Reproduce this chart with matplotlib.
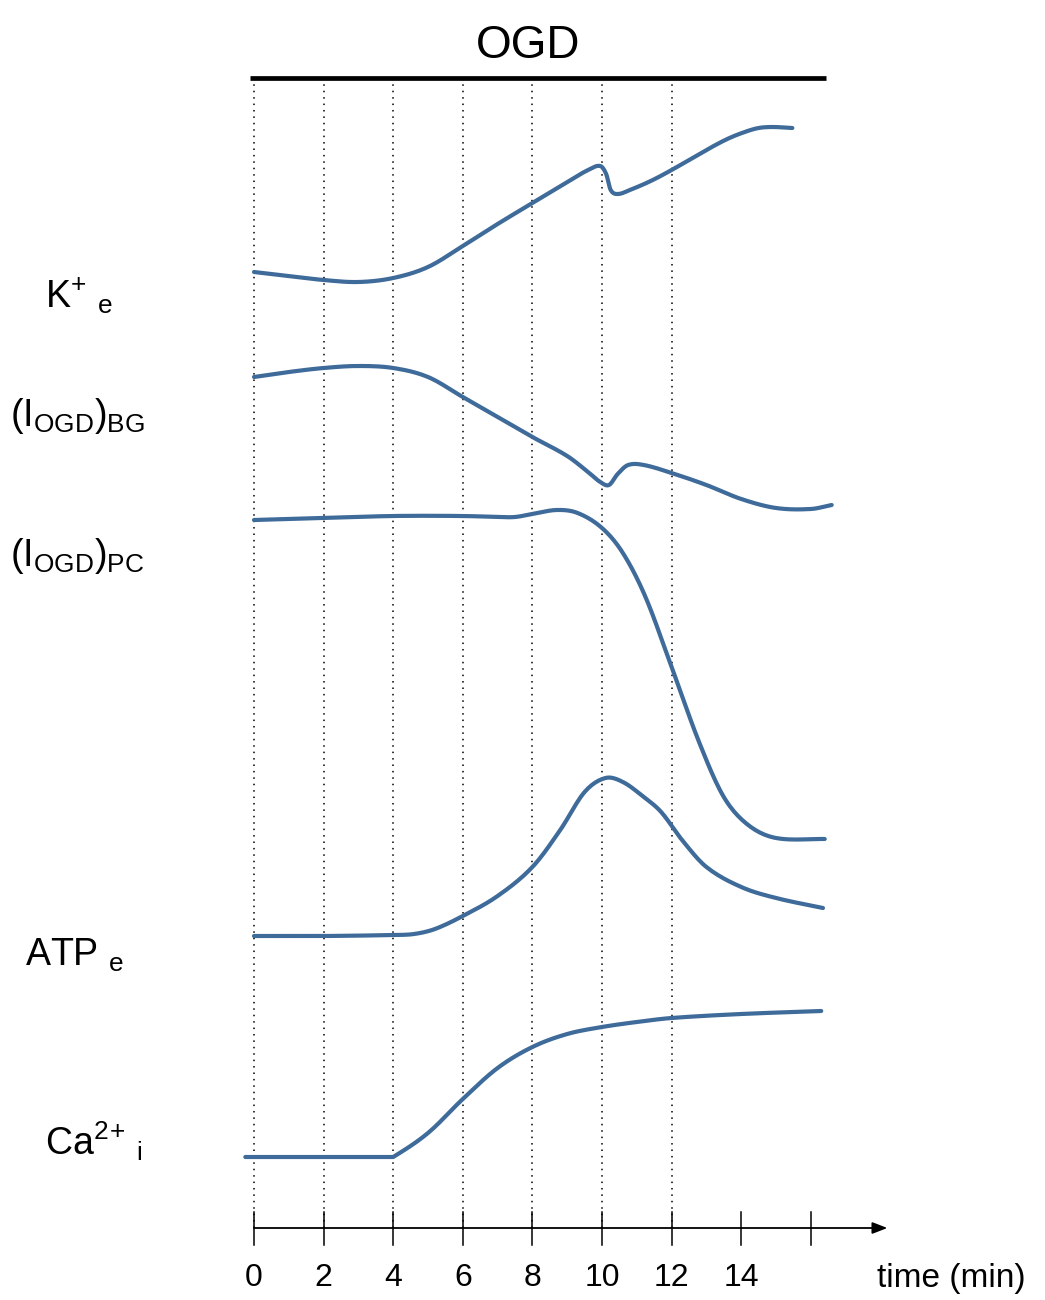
import matplotlib
matplotlib.use("Agg")
import matplotlib.pyplot as plt
import numpy as np
from matplotlib import font_manager

# font: the reference text looks like a narrow Helvetica
names = {f.name for f in font_manager.fontManager.ttflist}
FONT = 'Liberation Sans Narrow' if 'Liberation Sans Narrow' in names else 'Liberation Sans'
plt.rcParams['font.family'] = [FONT, 'DejaVu Sans']
plt.rcParams['mathtext.fontset'] = 'custom'
plt.rcParams['mathtext.rm'] = FONT
plt.rcParams['mathtext.it'] = FONT
plt.rcParams['mathtext.bf'] = FONT

# ---- data (time in min, level in arbitrary units) ----
k_t = [0, 1, 2, 3, 4, 5, 6, 7, 8, 9, 9.6, 9.95, 10.12, 10.25, 10.45, 10.8, 11.4, 12, 13, 13.6, 14.1, 14.5, 14.9, 15.47]
k_v = [1028, 1024, 1020, 1018, 1022, 1033, 1054, 1076, 1097, 1118, 1130, 1134, 1126, 1110, 1106, 1110, 1119, 1130, 1150, 1161, 1168, 1172, 1173, 1172]

bg_t = [0, 1, 2, 3, 4, 5, 6, 7, 8, 9, 9.6, 9.95, 10.2, 10.45, 10.75, 11.2, 12, 13, 14, 15, 16, 16.6]
bg_v = [923, 928, 932, 934, 932, 923, 903, 883, 863, 844, 828, 818, 815, 826, 835, 835, 827, 815, 801, 792, 791, 795]

pc_t = [0, 2, 4, 6, 7, 7.5, 8, 8.7, 9.3, 10, 10.6, 11.25, 12, 12.8, 13.5, 14.2, 15, 16.4]
pc_v = [780, 782, 784, 784, 783, 783, 786, 790, 787, 772, 747, 703, 633, 557, 503, 475, 462, 461]

atp_t = [0, 2, 4, 4.6, 5.2, 6, 7, 8, 8.8, 9.5, 10.1, 10.6, 11.2, 11.7, 12.3, 13, 14, 15, 16.35]
atp_v = [364, 364, 365, 366, 371, 384, 404, 433, 470, 508, 522, 518, 503, 488, 460, 433, 413, 402, 392]

ca_t = [-0.25, 2, 4, 5, 6, 7, 8, 9, 10, 11, 12, 14, 16.3]
ca_v = [143, 143, 143, 167, 201, 232, 253, 266, 273, 278, 282, 286, 289]

labels = [r'K$^{+}$ $_{\mathrm{e}}$',
          r'(I$_{\mathrm{OGD}}$)$_{\mathrm{BG}}$',
          r'(I$_{\mathrm{OGD}}$)$_{\mathrm{PC}}$',
          r'ATP $_{\mathrm{e}}$',
          r'Ca$^{2}$$^{+}$ $_{\mathrm{i}}$']

tick_vals = [0, 2, 4, 6, 8, 10, 12, 14, 16]
tick_labels = ['0', '2', '4', '6', '8', '10', '12', '14', '']
grid_vals = [0, 2, 4, 6, 8, 10, 12]
ogd_start, ogd_end = -0.12, 16.45

BLUE = '#3f6b9a'


def hermite(t, v, corners=(), n=12):
    # cubic hermite through the read points, tangents from centred differences
    t = np.asarray(t, float)
    v = np.asarray(v, float)
    m = np.zeros_like(v)
    m[1:-1] = (v[2:] - v[:-2]) / (t[2:] - t[:-2])
    m[0] = (v[1] - v[0]) / (t[1] - t[0])
    m[-1] = (v[-1] - v[-2]) / (t[-1] - t[-2])
    xs, ys = [], []
    for i in range(len(t) - 1):
        h = t[i + 1] - t[i]
        m0, m1 = m[i], m[i + 1]
        # a corner: flat on the left, straight take-off on the right
        if i + 1 in corners:
            m1 = 0.0
        if i in corners:
            m0 = (v[i + 1] - v[i]) / h * 0.9
        s = np.linspace(0, 1, n, endpoint=False)
        h00 = 2 * s ** 3 - 3 * s ** 2 + 1
        h10 = s ** 3 - 2 * s ** 2 + s
        h01 = -2 * s ** 3 + 3 * s ** 2
        h11 = s ** 3 - s ** 2
        xs.extend(t[i] + s * h)
        ys.extend(h00 * v[i] + h10 * h * m0 + h01 * v[i + 1] + h11 * h * m1)
    xs.append(t[-1]); ys.append(v[-1])
    return np.array(xs), np.array(ys)


W, H = 1045, 1300
x0, scale = 254, 34.8   # pixel of t=0 and pixels per minute

fig = plt.figure(figsize=(W / 100, H / 100), dpi=100)
ax = fig.add_axes([0, 0, 1, 1])
ax.set_xlim((0 - x0) / scale, (W - x0) / scale)
ax.set_ylim(0, H)
ax.axis('off')


def px(x, y):
    return x / W, 1 - y / H


# dotted guides
for g in grid_vals:
    ax.plot([g, g], [72, 1216], color='black', lw=1.1, linestyle=(0, (1, 3.2)), zorder=1)

# OGD bar
ax.plot([ogd_start, ogd_end], [1222, 1222], color='black', lw=3.4, solid_capstyle='butt', zorder=3)
fig.text(*px(528, 46), 'OGD', fontsize=33, ha='center', va='center')

# traces
for t, v, corners in [(k_t, k_v, ()), (bg_t, bg_v, ()), (pc_t, pc_v, ()),
                      (atp_t, atp_v, ()), (ca_t, ca_v, (2,))]:
    xs, ys = hermite(t, v, corners)
    ax.plot(xs, ys, color=BLUE, lw=3.0, solid_capstyle='round', zorder=4)

# trace labels
label_pos = [(45, 296), (10, 416), (10, 556), (25, 955), (45, 1141)]
for (lx, ly), lab in zip(label_pos, labels):
    fig.text(*px(lx, ly), lab, fontsize=27, ha='left', va='center')

# time axis with arrow
ax.annotate('', xy=(18.2, 72), xytext=(0, 72),
            arrowprops=dict(arrowstyle='-|>,head_length=0.9,head_width=0.35', color='black',
                            lw=1.3, shrinkA=0, shrinkB=0))
for tv, tl in zip(tick_vals, tick_labels):
    ax.plot([tv, tv], [55, 88], color='black', lw=1.1, zorder=3)
    ax.text(tv, 22, tl, fontsize=23, ha='center', va='center')
fig.text(*px(877, 1278), 'time (min)', fontsize=24, ha='left', va='center')

fig.savefig('out.png', dpi=100)
